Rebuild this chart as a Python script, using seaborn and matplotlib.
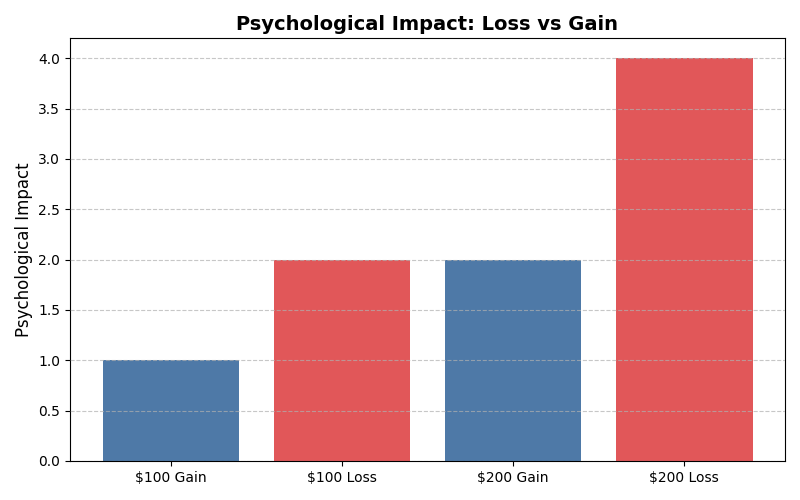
import matplotlib
matplotlib.use("Agg")
import matplotlib.pyplot as plt
import seaborn as sns
import pandas as pd

categories = ["$100 Gain", "$100 Loss", "$200 Gain", "$200 Loss"]
impact = [1.0, 2.0, 2.0, 4.0]
colors = ["#4e79a7", "#e15759", "#4e79a7", "#e15759"]

df = pd.DataFrame({"Scenario": categories, "Impact": impact})

fig, ax = plt.subplots(figsize=(8, 5), dpi=100)
sns.barplot(data=df, x="Scenario", y="Impact", hue="Scenario",
            palette=dict(zip(categories, colors)), saturation=1,
            width=0.8, legend=False, ax=ax)
ax.set_title("Psychological Impact: Loss vs Gain", fontsize=14, fontweight="bold")
ax.set_ylabel("Psychological Impact", fontsize=12)
ax.set_xlabel("")
ax.set_axisbelow(False)
ax.grid(axis="y", linestyle="--", alpha=0.7, zorder=3)
ax.set_xlim(-0.59, 3.59)
ax.set_ylim(0, 4.2)
fig.subplots_adjust(left=0.0875, right=0.98125, top=0.924, bottom=0.078)
fig.savefig("out.png")
